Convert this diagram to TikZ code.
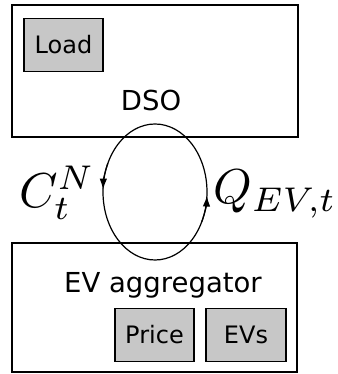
\documentclass[tikz,border=0pt]{standalone}
\usepackage{fontspec}
\setsansfont{DejaVu Sans}
\usetikzlibrary{arrows.meta}

\begin{document}
\begin{tikzpicture}[
    x=1pt, y=1pt,
    frame/.style={
        rectangle,
        draw=black,
        line width=1.8pt,
        inner sep=0pt
    },
    part/.style={
        rectangle,
        draw=black,
        fill=black!22,
        line width=1.6pt,
        inner sep=0pt,
        minimum height=53pt,
        font=\sffamily\fontsize{24}{28}\selectfont
    },
    title/.style={
        font=\sffamily\fontsize{27.5}{32}\selectfont,
        inner sep=0pt
    },
    flow/.style={
        scale=4.9,
        inner sep=0pt
    },
    loopline/.style={
        line width=1.2pt
    },
    tip/.style={
        line width=1.2pt,
        -{Latex[length=11pt,width=7.5pt]}
    }
]
    \useasboundingbox (0,0) rectangle (337,374);

    % Nodes
    \node [frame, minimum width=286pt, minimum height=132pt] (dso) at (155,303) {};
    \node [part, minimum width=79pt] (load) at (63.5,329) {Load};
    \node [title] (dsolabel) at (151,274) {DSO};

    \node [frame, minimum width=285pt, minimum height=129pt] (agg) at (154.5,66.5) {};
    \node [title] (agglabel) at (163,89) {EV aggregator};
    \node [part, minimum width=79pt] (price) at (154.5,39) {Price};
    \node [part, minimum width=80pt] (evs) at (246,39) {EVs};

    \node [flow] (cost) at (57,181) {$C_t^N$};
    \node [flow] (power) at (275,180) {$Q_{EV,t}$};

    % Arrows
    \coordinate (mid) at (155,182);
    \draw [loopline] (mid) ellipse (52 and 68);
    \draw [tip] (mid) ++(155:52 and 68) arc[start angle=155, end angle=178, x radius=52, y radius=68];
    \draw [tip] (mid) ++(-26:52 and 68) arc[start angle=-26, end angle=-3, x radius=52, y radius=68];
\end{tikzpicture}
\end{document}
